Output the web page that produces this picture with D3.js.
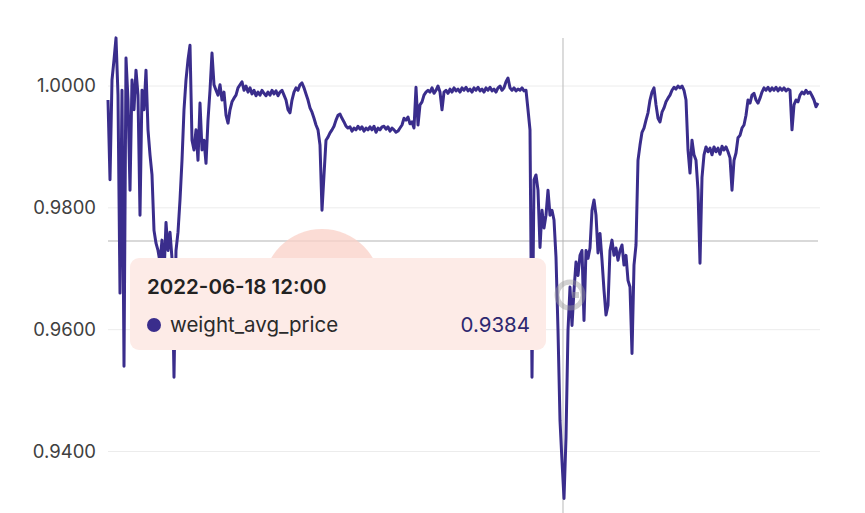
<!DOCTYPE html>
<html>
<head>
<meta charset="utf-8">
<script src="https://cdn.jsdelivr.net/npm/d3@7"></script>
<style>
  html, body { margin: 0; padding: 0; background: #ffffff; }
  svg { display: block; font-family: "Inter", "Noto Sans", sans-serif; }
</style>
</head>
<body>
<svg id="chart" width="865" height="513"></svg>
<script>
// ---- data ----
const seriesName = "weight_avg_price";
const startTime = "2022-05-11T16:00:00";
const stepHours = 4;
const yTicks = [0.94, 0.96, 0.98, 1.00];
const tooltipTime = "2022-06-18 12:00";
const tooltipValue = 0.9384;
const values = [
  0.9977,0.9846,1.0010,1.0043,1.0079,0.9985,0.9660,0.9993,0.9540,1.0046,
  0.9977,0.9829,1.0010,0.9961,1.0026,0.9985,0.9788,0.9993,0.9961,1.0026,
  0.9928,0.9887,0.9854,0.9763,0.9742,0.9730,0.9711,0.9747,0.9689,0.9776,
  0.9730,0.9760,0.9717,0.9522,0.9730,0.9760,0.9813,0.9878,0.9961,1.0010,
  1.0043,1.0067,
  0.9911,0.9895,0.9928,0.9878,0.9972,0.9895,0.9911,0.9873,0.9944,0.9993,
  1.0054,1.0002,
  0.9993,0.9985,1.0002,0.9977,0.9990,0.9952,0.9939,0.9961,0.9974,0.9980,
  0.9985,0.9997,1.0002,1.0007,0.9993,1.0000,0.9990,0.9997,0.9987,0.9993,
  0.9984,0.9990,0.9985,0.9993,0.9988,0.9984,0.9990,0.9985,0.9993,0.9987,
  0.9992,0.9984,0.9990,0.9993,0.9985,0.9977,0.9961,0.9956,0.9977,0.9990,
  0.9997,0.9993,1.0002,1.0005,0.9997,0.9987,0.9977,0.9964,0.9957,0.9947,
  0.9936,0.9928,0.9903,0.9796,0.9854,0.9911,0.9916,0.9923,0.9928,
  0.9934,0.9944,0.9952,0.9954,0.9947,0.9941,0.9934,0.9931,0.9933,0.9926,
  0.9931,0.9928,0.9934,0.9929,0.9933,0.9926,0.9931,0.9928,0.9933,0.9928,
  0.9934,0.9924,0.9931,0.9928,0.9933,0.9934,0.9929,0.9933,0.9926,0.9931,
  0.9928,0.9924,0.9926,0.9931,0.9936,0.9947,0.9944,0.9949,0.9938,0.9941,
  0.9931,0.9998,0.9936,0.9969,0.9974,0.9985,0.9990,
  0.9993,0.9990,0.9997,0.9988,0.9993,1.0000,0.9990,0.9961,0.9990,0.9993,
  0.9988,0.9995,0.9990,0.9997,0.9992,0.9995,0.9990,0.9997,0.9993,0.9998,
  0.9992,0.9995,0.9990,0.9997,0.9993,0.9998,0.9992,0.9995,0.9990,0.9997,
  0.9993,0.9998,0.9992,0.9995,0.9990,0.9997,1.0000,0.9993,0.9997,1.0007,
  1.0013,0.9997,0.9993,0.9997,0.9992,0.9995,0.9993,0.9997,0.9992,0.9993,
  0.9961,0.9928,0.9522,0.9846,0.9854,0.9829,0.9735,0.9796,0.9767,0.9788,
  0.9829,0.9788,0.9796,0.9780,0.9719,0.9599,0.9451,0.9384,0.9323,0.9423,
  0.9599,0.9670,0.9607,0.9665,0.9711,0.9689,0.9722,0.9730,0.9615,0.9730,
  0.9717,0.9734,0.9796,0.9813,0.9788,0.9726,0.9758,0.9714,0.9665,0.9624,
  0.9640,0.9730,0.9747,0.9722,0.9734,0.9714,0.9730,0.9739,0.9706,0.9722,
  0.9681,0.9670,0.9561,0.9706,0.9739,0.9878,0.9903,0.9924,0.9931,0.9944,
  0.9956,0.9977,0.9990,0.9997,0.9969,0.9947,0.9941,0.9957,0.9964,0.9974,
  0.9980,0.9985,0.9993,0.9998,0.9995,1.0000,0.9997,1.0000,0.9993,0.9977,
  0.9895,0.9857,0.9911,0.9887,0.9878,0.9829,0.9709,0.9850,0.9887,0.9900,
  0.9892,0.9898,0.9887,0.9900,0.9892,0.9898,0.9888,0.9901,0.9895,0.9900,
  0.9892,0.9882,0.9829,0.9878,0.9890,0.9915,0.9919,0.9931,0.9936,0.9952,
  0.9977,0.9972,0.9985,0.9988,0.9977,0.9972,0.9980,0.9990,0.9997,0.9993,
  0.9998,0.9992,0.9997,0.9993,0.9998,0.9992,0.9997,0.9993,0.9997,0.9992,
  0.9995,0.9993,0.9928,0.9969,0.9977,0.9974,0.9985,0.9990,0.9987,0.9993,
  0.9988,0.9990,0.9984,0.9977,0.9966,0.9972
];

// ---- build ----
const t0 = new Date(startTime);
const data = values.map((v, i) => ({ t: new Date(t0.getTime() + i * stepHours * 3600e3), v }));
const tipDate = d3.timeParse("%Y-%m-%d %H:%M")(tooltipTime);

const svg = d3.select("#chart");
const left = 108, right = 818;
const x = d3.scaleTime().domain(d3.extent(data, d => d.t)).range([left, right]);
const y = d3.scaleLinear().domain([0.94, 1.0]).range([451.5, 86]);

const lineColor = "#3a2d8c";

// gridlines
svg.append("g").selectAll("line").data(yTicks).join("line")
  .attr("x1", left).attr("x2", right + 2)
  .attr("y1", d => y(d)).attr("y2", d => y(d))
  .attr("stroke", "#ececec").attr("stroke-width", 1);

// y labels via axis
const yAxis = d3.axisLeft(y).tickValues(yTicks).tickFormat(d3.format(".4f")).tickSize(0).tickPadding(0);
const ga = svg.append("g").attr("transform", `translate(96,0)`).call(yAxis);
ga.select(".domain").remove();
ga.selectAll("text").attr("fill", "#404040").style("font-size", "18.5px")
  .style("font-family", "Inter, 'Noto Sans', sans-serif");

// crosshair
const crossX = x(tipDate) + 1;
const crossY = 241;
svg.append("line").attr("x1", crossX).attr("x2", crossX).attr("y1", 38).attr("y2", 513)
  .attr("stroke", "#c4c4c4").attr("stroke-width", 1.2);
svg.append("line").attr("x1", left).attr("x2", right).attr("y1", crossY).attr("y2", crossY)
  .attr("stroke", "#b4b4b4").attr("stroke-width", 1.2);

// line
const line = d3.line().x(d => x(d.t)).y(d => y(d.v)).curve(d3.curveLinear);
svg.append("path").datum(data).attr("d", line)
  .attr("fill", "none").attr("stroke", lineColor).attr("stroke-width", 3)
  .attr("stroke-linejoin", "round");

// watermark logo
const wm = svg.append("g").attr("transform", "translate(570,295)").attr("opacity", 0.45);
wm.append("circle").attr("r", 13).attr("fill", "none").attr("stroke", "#9a9a9a").attr("stroke-width", 5);
wm.append("path").attr("d", "M2,-3 L9,-3 L9,3 L2,3 Z").attr("fill", "#9a9a9a");

// hover blob
svg.append("circle").attr("cx", 322).attr("cy", 288).attr("r", 59)
  .attr("fill", "#f9d0c7").attr("opacity", 0.75);

// tooltip
const tip = svg.append("g");
tip.append("rect").attr("x", 130).attr("y", 258).attr("width", 416).attr("height", 92)
  .attr("rx", 9).attr("fill", "#fdebe7");
tip.append("text").attr("x", 147).attr("y", 294)
  .attr("fill", "#222").style("font-size", "20.5px").style("font-weight", 600)
  .text(d3.timeFormat("%Y-%m-%d %H:%M")(tipDate));
tip.append("circle").attr("cx", 154).attr("cy", 325).attr("r", 7).attr("fill", lineColor);
tip.append("text").attr("x", 170).attr("y", 332)
  .attr("fill", "#2a2a2a").style("font-size", "20.5px")
  .text(seriesName);
tip.append("text").attr("x", 530).attr("y", 332).attr("text-anchor", "end")
  .attr("fill", "#2e2870").style("font-size", "20.5px")
  .text(d3.format(".4f")(tooltipValue));
</script>
</body>
</html>
